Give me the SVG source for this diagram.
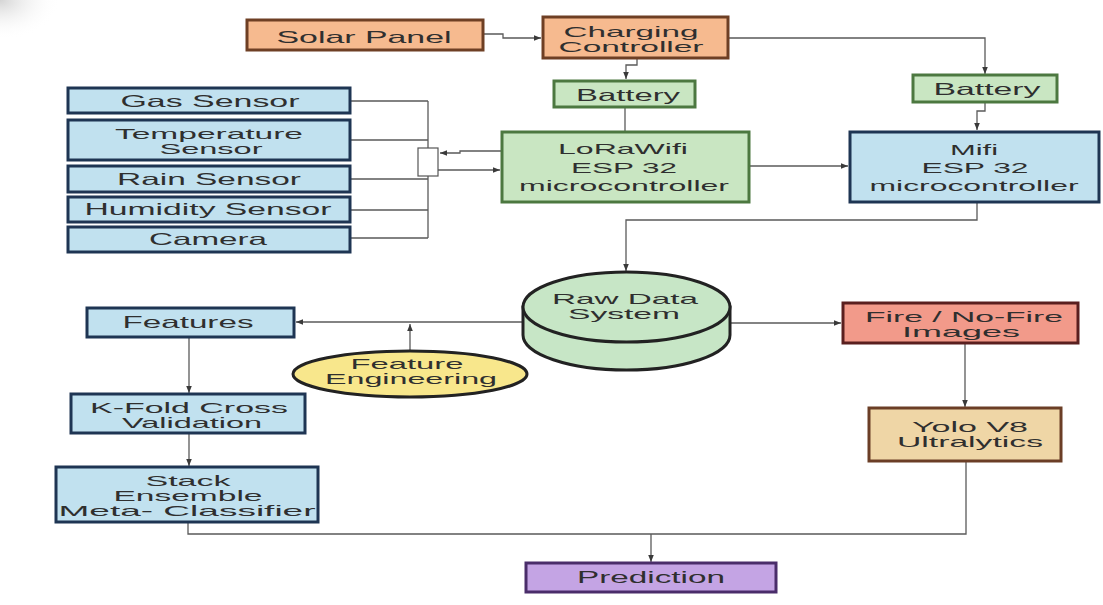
<svg xmlns="http://www.w3.org/2000/svg" width="1103" height="605" viewBox="0 0 1103 605">
<defs>
<marker id="ar" viewBox="0 0 10 10" refX="10" refY="5" markerWidth="8" markerHeight="7" markerUnits="userSpaceOnUse" orient="auto"><path d="M0,1 L10,5 L0,9 z" fill="#3a3a3a"/></marker>
<radialGradient id="corner" cx="0" cy="0" r="1"><stop offset="0" stop-color="#d4d4d4"/><stop offset="1" stop-color="#ffffff" stop-opacity="0"/></radialGradient>
</defs>
<style>
text{font-family:"Liberation Sans",Arial,sans-serif;font-size:16.5px;fill:#2f2f2f;text-anchor:middle}
text.m{font-size:15px}
.c{fill:none;stroke:#5a5a5a;stroke-width:1.3}
.ca{fill:none;stroke:#5a5a5a;stroke-width:1.3;marker-end:url(#ar)}
.peach{fill:#F6BA8F;stroke:#6E3F24;stroke-width:3}
.green{fill:#C9E6C2;stroke:#4C7840;stroke-width:3}
.blue{fill:#C1E1EF;stroke:#1E3553;stroke-width:3}
.fire{fill:#F29A8A;stroke:#5A1F1F;stroke-width:3}
.yolo{fill:#EFD6A6;stroke:#6B3E26;stroke-width:3}
.pred{fill:#C4A4E4;stroke:#4A2D6A;stroke-width:3}
.db{fill:#C7E6C6;stroke:#222;stroke-width:3}
.fe{fill:#F8E78C;stroke:#222;stroke-width:3}
.jn{fill:#fff;stroke:#555;stroke-width:1.2}
</style>
<rect width="1103" height="605" fill="#fff"/>
<rect x="0" y="0" width="60" height="40" fill="url(#corner)"/>
<g id="connectors">
<path class="ca" d="M483,34 H503 V38 H541"/>
<path class="ca" d="M637,58 V65 H626 V79"/>
<path class="c" d="M625,107 V132"/>
<path class="ca" d="M728,38 H985 V74"/>
<path class="ca" d="M985,102 V111 H977 V130"/>
<path class="ca" d="M749,166 H848"/>
<path class="ca" d="M977,202 V220 H626 V271"/>
<path class="c" d="M350,101 H428 M350,140 H428 M350,179 H428 M350,210 H428 M350,238 H428 M428,101 V238"/>
<path class="ca" d="M502,151 H460 V153 H440"/>
<path class="ca" d="M438,170 H500"/>
<path class="ca" d="M522,322 H296"/>
<path class="ca" d="M410,351 V324"/>
<path class="ca" d="M730,323 H841"/>
<path class="ca" d="M965,343 V407"/>
<path class="ca" d="M189,337 V393"/>
<path class="ca" d="M189,433 V466"/>
<path class="c" d="M188,522 V534 H966 V461"/>
<path class="ca" d="M651,534 V562"/>
</g>
<g id="junction"><rect class="jn" x="418" y="148" width="20" height="28"/></g>
<g id="solar-panel"><rect class="peach" x="247" y="20" width="236" height="30"/><text x="364" y="43" textLength="175" lengthAdjust="spacingAndGlyphs">Solar Panel</text></g>
<g id="charging-controller"><rect class="peach" x="543" y="17" width="185" height="41"/><text class="m" x="631" y="37" textLength="135" lengthAdjust="spacingAndGlyphs">Charging</text><text class="m" x="631" y="52" textLength="145" lengthAdjust="spacingAndGlyphs">Controller</text></g>
<g id="battery-1"><rect class="green" x="554" y="81" width="141" height="26"/><text x="628" y="101" textLength="104" lengthAdjust="spacingAndGlyphs">Battery</text></g>
<g id="battery-2"><rect class="green" x="913" y="75" width="144" height="27"/><text x="987" y="95" textLength="107" lengthAdjust="spacingAndGlyphs">Battery</text></g>
<g id="lorawifi"><rect class="green" x="502" y="132" width="247" height="70"/><text class="m" x="623" y="154" textLength="130" lengthAdjust="spacingAndGlyphs">LoRaWifi</text><text class="m" x="624" y="173" textLength="106" lengthAdjust="spacingAndGlyphs">ESP 32</text><text class="m" x="624" y="191" textLength="210" lengthAdjust="spacingAndGlyphs">microcontroller</text></g>
<g id="mifi"><rect class="blue" x="850" y="132" width="249" height="70"/><text class="m" x="974" y="155" textLength="48" lengthAdjust="spacingAndGlyphs">Mifi</text><text class="m" x="975" y="173" textLength="107" lengthAdjust="spacingAndGlyphs">ESP 32</text><text class="m" x="974" y="191" textLength="209" lengthAdjust="spacingAndGlyphs">microcontroller</text></g>
<g id="gas-sensor"><rect class="blue" x="68" y="88" width="282" height="25"/><text x="210" y="107" textLength="179" lengthAdjust="spacingAndGlyphs">Gas Sensor</text></g>
<g id="temperature-sensor"><rect class="blue" x="68" y="120" width="282" height="40"/><text class="m" x="209" y="139" textLength="188" lengthAdjust="spacingAndGlyphs">Temperature</text><text class="m" x="211" y="154" textLength="103" lengthAdjust="spacingAndGlyphs">Sensor</text></g>
<g id="rain-sensor"><rect class="blue" x="68" y="166" width="282" height="26"/><text x="209" y="185" textLength="184" lengthAdjust="spacingAndGlyphs">Rain Sensor</text></g>
<g id="humidity-sensor"><rect class="blue" x="68" y="197" width="282" height="25"/><text x="208" y="215" textLength="247" lengthAdjust="spacingAndGlyphs">Humidity Sensor</text></g>
<g id="camera"><rect class="blue" x="68" y="227" width="282" height="25"/><text x="208" y="245" textLength="118" lengthAdjust="spacingAndGlyphs">Camera</text></g>
<g id="raw-data-system"><path class="db" d="M523,307 V335 A103.5,35 0 0 0 730,335 V307 Z"/><ellipse class="db" cx="626.5" cy="307" rx="103.5" ry="35"/><text class="m" x="625" y="304" textLength="146" lengthAdjust="spacingAndGlyphs">Raw Data</text><text class="m" x="624" y="319" textLength="112" lengthAdjust="spacingAndGlyphs">System</text></g>
<g id="features"><rect class="blue" x="87" y="308" width="207" height="29"/><text x="188" y="328" textLength="131" lengthAdjust="spacingAndGlyphs">Features</text></g>
<g id="feature-engineering"><ellipse class="fe" cx="410" cy="374" rx="117" ry="23"/><text class="m" x="407" y="369" textLength="113" lengthAdjust="spacingAndGlyphs">Feature</text><text class="m" x="411" y="384" textLength="172" lengthAdjust="spacingAndGlyphs">Engineering</text></g>
<g id="fire-images"><rect class="fire" x="843" y="303" width="235" height="40"/><text class="m" x="964" y="322" textLength="198" lengthAdjust="spacingAndGlyphs">Fire / No-Fire</text><text class="m" x="961" y="337" textLength="118" lengthAdjust="spacingAndGlyphs">Images</text></g>
<g id="kfold"><rect class="blue" x="71" y="394" width="234" height="39"/><text class="m" x="189" y="413" textLength="198" lengthAdjust="spacingAndGlyphs">K-Fold Cross</text><text class="m" x="192" y="428" textLength="140" lengthAdjust="spacingAndGlyphs">Validation</text></g>
<g id="yolo"><rect class="yolo" x="869" y="408" width="192" height="53"/><text class="m" x="970" y="432" textLength="116" lengthAdjust="spacingAndGlyphs">Yolo V8</text><text class="m" x="970" y="447" textLength="146" lengthAdjust="spacingAndGlyphs">Ultralytics</text></g>
<g id="stack-ensemble"><rect class="blue" x="56" y="467" width="262" height="55"/><text class="m" x="188" y="486" textLength="85" lengthAdjust="spacingAndGlyphs">Stack</text><text class="m" x="188" y="501" textLength="149" lengthAdjust="spacingAndGlyphs">Ensemble</text><text class="m" x="187" y="516" textLength="257" lengthAdjust="spacingAndGlyphs">Meta- Classifier</text></g>
<g id="prediction"><rect class="pred" x="526" y="563" width="250" height="29"/><text x="651" y="583" textLength="148" lengthAdjust="spacingAndGlyphs">Prediction</text></g>
</svg>
